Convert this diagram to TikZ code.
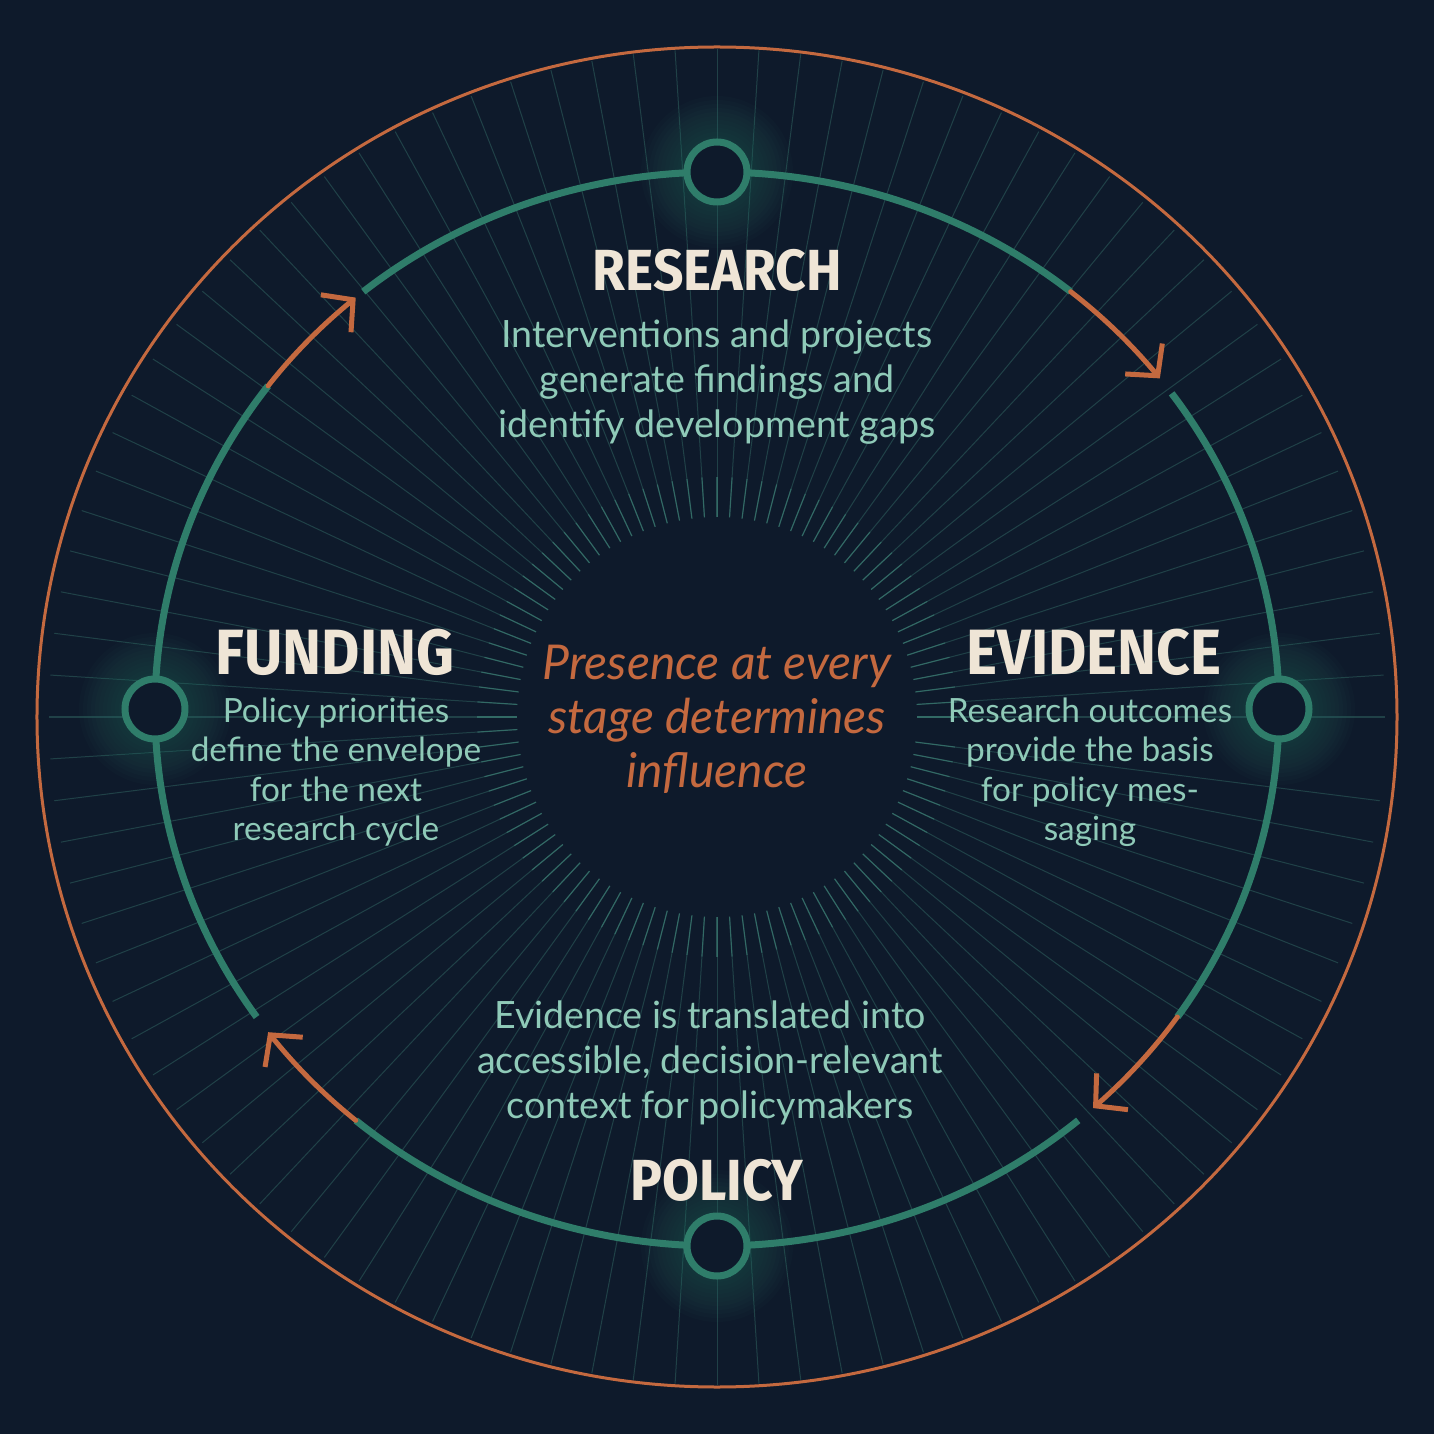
\documentclass[tikz,border=0pt]{standalone}
\usepackage{fontspec}
\setmainfont{Lato}
\newfontfamily\headfont[FakeStretch=0.92]{Fira Sans}
\usetikzlibrary{arrows.meta, bending}
\definecolor{bgnavy}{HTML}{0E1A2B}
\definecolor{cycteal}{HTML}{2F7D6A}
\definecolor{rayteal}{HTML}{4A9C8A}
\definecolor{txteal}{HTML}{8FCAB8}
\definecolor{cream}{HTML}{EFE5D6}
\definecolor{rust}{HTML}{C4693F}

\begin{document}
\begin{tikzpicture}[x=0.5pt, y=0.5pt,
  cycle/.style={draw=cycteal, line width=3.5pt},
  turn/.style={draw=rust, line width=2.5pt, line cap=round,
    -{Straight Barb[length=11pt, width=24pt, line width=2.5pt]}},
  dot/.style={circle, draw=cycteal, fill=bgnavy, line width=3.5pt,
    minimum size=30pt, inner sep=0pt},
  head/.style={font=\headfont\bfseries\fontsize{29}{32}\selectfont, text=cream},
  sidehead/.style={font=\headfont\bfseries\fontsize{32}{35}\selectfont, text=cream},
  body/.style={font=\fontsize{18.8}{22.5}\selectfont, text=txteal, align=center},
  side/.style={font=\fontsize{16.7}{19.75}\selectfont, text=txteal, align=center},
  core/.style={font=\itshape\fontsize{24}{27}\selectfont, text=rust, align=center}]
  \fill[bgnavy] (-717,-717) rectangle (717,717);
  \useasboundingbox (-717,-717) rectangle (717,717);

  % rays
  \foreach \a in {0,3.6,...,356.4} {
    \draw[rayteal, opacity=0.3, line width=0.5pt] (\a:200) -- (\a:668);
    \draw[rayteal, opacity=0.45, line width=0.6pt] (\a:200) -- (\a:240);
  }
  \draw[rust, line width=1.5pt] (0,0) ellipse [x radius=680, y radius=670];

  % cycle
  \begin{scope}[shift={(0,8)}]
    \foreach \a in {90,0,270,180}
      \foreach \r in {76,72,...,36}
        \fill[cycteal, opacity=0.035] (\a:562 and 537) circle (\r);

    \draw[cycle] (129:562 and 537) arc[start angle=129, end angle=51, x radius=562, y radius=537];
    \draw[turn]  (51:562 and 537)  arc[start angle=51, end angle=38, x radius=562, y radius=537];
    \draw[cycle] (36:562 and 537)  arc[start angle=36, end angle=-35, x radius=562, y radius=537];
    \draw[turn]  (-35:562 and 537) arc[start angle=-35, end angle=-48, x radius=562, y radius=537];
    \draw[cycle] (-50:562 and 537) arc[start angle=-50, end angle=-130, x radius=562, y radius=537];
    \draw[turn]  (-130:562 and 537) arc[start angle=-130, end angle=-143, x radius=562, y radius=537];
    \draw[cycle] (-145:562 and 537) arc[start angle=-145, end angle=-217, x radius=562, y radius=537];
    \draw[turn]  (143:562 and 537) arc[start angle=143, end angle=130, x radius=562, y radius=537];

    \node[dot] (research) at (90:562 and 537) {};
    \node[dot] (evidence) at (0:562 and 537) {};
    \node[dot] (policy) at (270:562 and 537) {};
    \node[dot] (funding) at (180:562 and 537) {};
  \end{scope}

  \node[head] (researchhead) at (0,447) {RESEARCH};
  \node[body] (researchtxt) at (0,335) {Interventions and projects\\generate findings and\\identify development gaps};

  \node[sidehead] (evidencehead) at (377,65) {EVIDENCE};
  \node[side] (evidencetxt) at (373,-55) {Research outcomes\\provide the basis\\for policy mes-\\saging};

  \node[sidehead] (fundinghead) at (-382,65) {FUNDING};
  \node[side] (fundingtxt) at (-381,-55) {Policy priorities\\define the envelope\\for the next\\research cycle};

  \node[body] (policytxt) at (-7,-346) {Evidence is translated into\\accessible, decision-relevant\\context for policymakers};
  \node[head] (policyhead) at (0,-463) {POLICY};

  \node[core] (centre) at (0,-2) {Presence at every\\stage determines\\influence};
\end{tikzpicture}
\end{document}
